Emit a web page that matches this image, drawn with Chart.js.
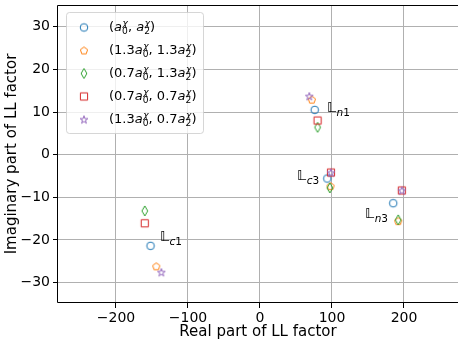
<!DOCTYPE html>
<html><head><meta charset="utf-8">
<script src="https://cdn.jsdelivr.net/npm/chart.js@4"></script>
<style>html,body{margin:0;padding:0;background:#fff}#wrap{width:458px;height:341px}</style>
</head><body><div id="wrap"><canvas id="c" width="458" height="341"></canvas></div>
<script>
// ---- data ----
const xTicks = [-200, -100, 0, 100, 200];
const yTicks = [-30, -20, -10, 0, 10, 20, 30];
const coefA = ['', '1.3', '0.7', '0.7', '1.3'];
const coefB = ['', '1.3', '1.3', '0.7', '0.7'];
// points ordered: Lc1, Ln1, Lc3, Ln3
const reBase   = [-152, 76, 93.5, 185];
const imBase   = [-21.4, 10.5, -5.6, -11.4];
const reHiHi   = [-144, 72, 98, 192];
const imHiHi   = [-26.2, 12.9, -7.4, -15.6];
const reLoHi   = [-160, 80, 97, 192];
const imLoHi   = [-13.2, 6.4, -7.8, -15.3];
const reLoLo   = [-160, 80, 98.6, 197];
const imLoLo   = [-16.1, 8.0, -4.2, -8.4];
const reHiLo   = [-137, 68.5, 98.6, 197];
const imHiLo   = [-27.6, 13.7, -4.2, -8.4];
const annoSub  = ['c1', 'n1', 'c3', 'n3'];
const annoX    = [-139, 93, 51.4, 145.8];
const annoY    = [-20.3, 10.0, -6.0, -14.8];

const colors = ['#1f77b4', '#ff7f0e', '#2ca02c', '#d62728', '#9467bd'];
const kinds = ['circle', 'pentagon', 'diamond', 'square', 'star'];
const FONT = '"DejaVu Sans", sans-serif';

function makeMarker(kind, color) {
  const s = 16, c = document.createElement('canvas');
  c.width = s; c.height = s;
  const g = c.getContext('2d');
  g.strokeStyle = color; g.lineWidth = 1.0; g.lineJoin = 'miter';
  const cx = 8, cy = 8;
  g.beginPath();
  if (kind === 'circle') {
    g.arc(cx, cy, 3.8, 0, Math.PI * 2);
  } else if (kind === 'square') {
    g.rect(cx - 3.6, cy - 3.6, 7.2, 7.2);
  } else if (kind === 'diamond') {
    g.moveTo(cx, cy - 5); g.lineTo(cx + 2.9, cy); g.lineTo(cx, cy + 5); g.lineTo(cx - 2.9, cy); g.closePath();
  } else if (kind === 'pentagon') {
    for (let i = 0; i < 5; i++) {
      const a = -Math.PI / 2 + i * 2 * Math.PI / 5, r = 3.8;
      const px = cx + r * Math.cos(a), py = cy + 0.3 + r * Math.sin(a);
      if (i === 0) g.moveTo(px, py); else g.lineTo(px, py);
    }
    g.closePath();
  } else if (kind === 'star') {
    for (let i = 0; i < 10; i++) {
      const a = -Math.PI / 2 + i * Math.PI / 5, r = (i % 2 === 0) ? 4.1 : 4.1 * 0.382;
      const px = cx + r * Math.cos(a), py = cy + 0.4 + r * Math.sin(a);
      if (i === 0) g.moveTo(px, py); else g.lineTo(px, py);
    }
    g.closePath();
  }
  g.stroke();
  return c;
}
const markers = kinds.map((k, i) => makeMarker(k, colors[i]));

const seriesRe = [reBase, reHiHi, reLoHi, reLoLo, reHiLo];
const seriesIm = [imBase, imHiHi, imLoHi, imLoLo, imHiLo];
const datasets = seriesRe.map((re, i) => ({
  label: 'series' + i,
  data: re.map((x, j) => ({ x: x, y: seriesIm[i][j] })),
  pointStyle: markers[i],
  pointRadius: 4,
  pointHoverRadius: 4,
  showLine: false,
  order: 4 - i
}));

function fmt(v) { return v < 0 ? '\u2212' + Math.abs(v) : String(v); }

function drawLegendLabel(ctx, x, y, a, b, size) {
  const fN = size + 'px ' + FONT, fI = 'italic ' + size + 'px ' + FONT;
  const ss = size * 0.7;
  const fSN = ss + 'px ' + FONT, fSI = 'italic ' + ss + 'px ' + FONT;
  let cx = x;
  ctx.textAlign = 'left'; ctx.textBaseline = 'alphabetic'; ctx.fillStyle = '#000';
  const put = (t, f, dy) => { ctx.font = f; ctx.fillText(t, cx, y + (dy || 0)); return ctx.measureText(t).width; };
  const term = (coef, idx) => {
    if (coef) cx += put(coef, fN);
    cx += put('a', fI);
    ctx.font = fSI; const w1 = ctx.measureText('\u03c7').width;
    ctx.fillText('\u03c7', cx + 0.5, y - size * 0.42);
    ctx.font = fSN; const w2 = ctx.measureText(idx).width;
    ctx.fillText(idx, cx, y + size * 0.22);
    cx += Math.max(w1 + 0.5, w2);
  };
  cx += put('(', fN);
  term(a, '0');
  cx += put(', ', fN);
  term(b, '2');
  cx += put(')', fN);
}

const overlay = {
  id: 'overlay',
  afterDatasetsDraw(chart) {
    const ctx = chart.ctx, xs = chart.scales.x, ys = chart.scales.y, ar = chart.chartArea;
    ctx.save();
    // annotations
    ctx.fillStyle = '#000'; ctx.textBaseline = 'alphabetic'; ctx.textAlign = 'left';
    annoSub.forEach((s, i) => {
      const px = xs.getPixelForValue(annoX[i]), py = ys.getPixelForValue(annoY[i]);
      ctx.font = 'italic 14px ' + FONT;
      ctx.fillText('\u{1D543}', px, py);
      let cx = px + ctx.measureText('\u{1D543}').width + 0.5;
      ctx.font = 'italic 10.5px ' + FONT;
      ctx.fillText(s[0], cx, py + 3.8);
      cx += ctx.measureText(s[0]).width;
      ctx.font = '10.5px ' + FONT;
      ctx.fillText(s.slice(1), cx, py + 3.8);
    });
    // spines (right spine lies beyond the canvas edge)
    ctx.strokeStyle = '#000'; ctx.lineWidth = 1;
    const L = Math.round(ar.left), T = Math.round(ar.top), B = Math.round(ar.bottom);
    ctx.beginPath();
    ctx.moveTo(chart.width + 1, T + 0.5); ctx.lineTo(L - 0.5, T + 0.5); ctx.lineTo(L - 0.5, B - 0.5); ctx.lineTo(chart.width + 1, B - 0.5);
    ctx.stroke();
    // legend
    const lx = 66.5, ly = 12.5, lw = 137, lh = 121, r = 3;
    ctx.beginPath();
    ctx.moveTo(lx + r, ly); ctx.lineTo(lx + lw - r, ly); ctx.arcTo(lx + lw, ly, lx + lw, ly + r, r);
    ctx.lineTo(lx + lw, ly + lh - r); ctx.arcTo(lx + lw, ly + lh, lx + lw - r, ly + lh, r);
    ctx.lineTo(lx + r, ly + lh); ctx.arcTo(lx, ly + lh, lx, ly + lh - r, r);
    ctx.lineTo(lx, ly + r); ctx.arcTo(lx, ly, lx + r, ly, r); ctx.closePath();
    ctx.fillStyle = 'rgba(255,255,255,0.8)'; ctx.fill();
    ctx.strokeStyle = 'rgba(204,204,204,0.8)'; ctx.stroke();
    for (let i = 0; i < 5; i++) {
      const my = 27.5 + i * 23;
      ctx.drawImage(markers[i], 84 - 8, my - 8);
      drawLegendLabel(ctx, 109, my + 3.5, coefA[i], coefB[i], 13);
    }
    ctx.restore();
  }
};

new Chart(document.getElementById('c'), {
  type: 'scatter',
  data: { datasets: datasets },
  plugins: [overlay],
  options: {
    responsive: false,
    devicePixelRatio: 1,
    animation: false,
    events: [],
    layout: { autoPadding: false, padding: { top: 5, right: 0, left: 0, bottom: 0 } },
    plugins: { legend: { display: false }, tooltip: { enabled: false } },
    scales: {
      x: {
        type: 'linear', min: -280.5, max: 275,
        afterBuildTicks: s => { s.ticks = xTicks.map(v => ({ value: v })); },
        afterFit: s => { s.height = 38; s.paddingLeft = 0; s.paddingRight = 0; },
        ticks: { callback: v => fmt(v), color: '#000', font: { family: FONT, size: 14 }, padding: 2, maxRotation: 0, autoSkip: false },
        grid: { color: '#b0b0b0', lineWidth: 1, tickColor: '#000', tickLength: 5 },
        border: { display: false },
        title: { display: true, text: 'Real part of LL factor', color: '#000', font: { family: FONT, size: 15 }, padding: { top: 0, bottom: 0 } }
      },
      y: {
        type: 'linear', min: -34.8, max: 35.1,
        afterBuildTicks: s => { s.ticks = yTicks.map(v => ({ value: v })); },
        afterFit: s => { s.width = 58; s.paddingTop = 0; s.paddingBottom = 0; },
        ticks: { callback: v => fmt(v), color: '#000', font: { family: FONT, size: 14 }, padding: 3, autoSkip: false },
        grid: { color: '#b0b0b0', lineWidth: 1, tickColor: '#000', tickLength: 5 },
        border: { display: false },
        title: { display: true, text: 'Imaginary part of LL factor', color: '#000', font: { family: FONT, size: 15 }, padding: { top: 3, bottom: 0 } }
      }
    }
  }
});
</script>
</body></html>
